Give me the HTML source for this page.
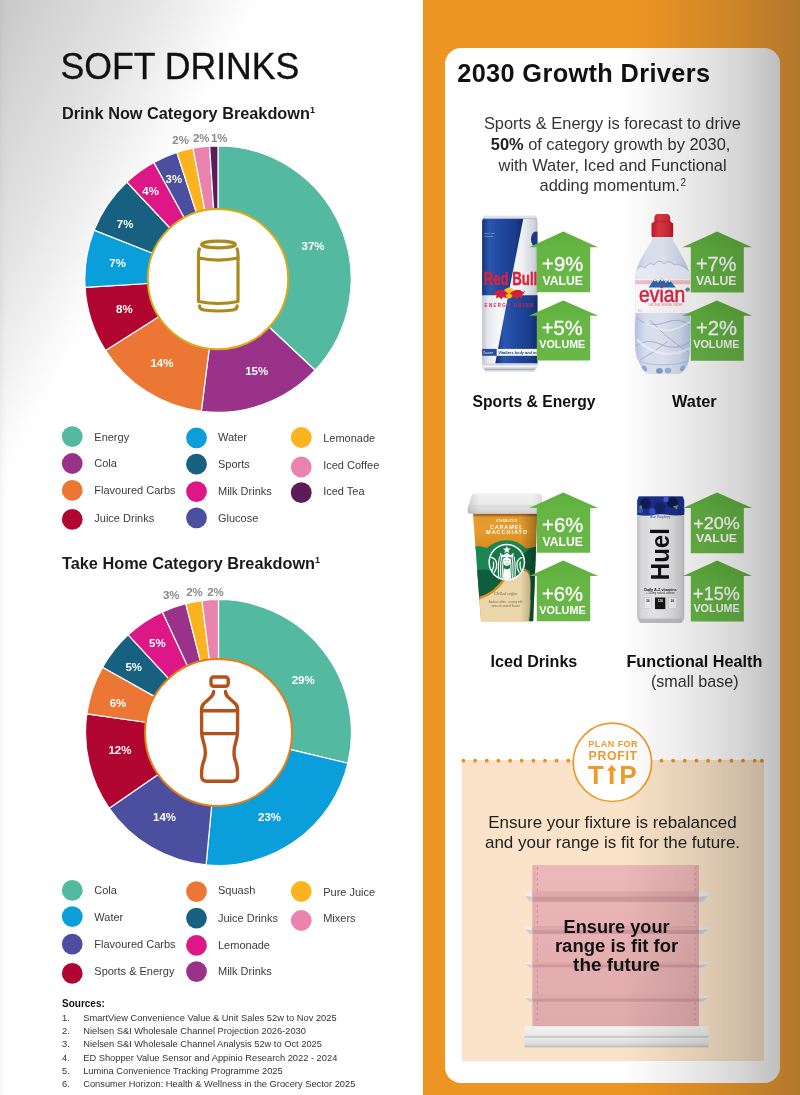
<!DOCTYPE html>
<html lang="en"><head><meta charset="utf-8"><title>Soft Drinks</title>
<style>
html,body{margin:0;padding:0}
body{width:800px;height:1095px;position:relative;overflow:hidden;background:#fff;font-family:"Liberation Sans", sans-serif}
#bgL{position:absolute;left:0;top:0;width:423px;height:1095px;background:linear-gradient(90deg,rgba(0,0,0,.035) 0,rgba(0,0,0,.012) 4px,rgba(0,0,0,0) 8px),linear-gradient(118deg,#c8c8c8 0,#d7d7d7 7.5%,#e5e5e5 15%,#f2f2f2 20.5%,#fdfdfd 25%,#fff 27%)}
#bgR{position:absolute;left:422.5px;top:0;width:377.5px;height:1095px;background:linear-gradient(90deg,#EC9523 0,#EC9523 55%,#D88A27 75%,#B3782C 100%)}
#card{position:absolute;left:445px;top:47.8px;width:335px;height:1035.2px;border-radius:16px;background:#fff}
#tipbox{position:absolute;left:461.5px;top:759.5px;width:302.6px;height:301.6px;background:#FAE3C8}
#shade{position:absolute;left:445px;top:47.8px;width:335px;height:1035.2px;border-radius:16px;background:linear-gradient(90deg,rgba(0,0,0,0) 0,rgba(0,0,0,0) 53%,rgba(0,0,0,.05) 65%,rgba(0,0,0,.1) 77%,rgba(0,0,0,.17) 89%,rgba(0,0,0,.25) 100%)}
</style></head><body>
<div id="bgL"></div><div id="bgR"></div><div id="card"></div><div id="tipbox"></div>
<svg id="L" width="800" height="1095" viewBox="0 0 800 1095" style="position:absolute;left:0;top:0;will-change:transform;opacity:.999" font-family='"Liberation Sans", sans-serif'>
<text x="60.4" y="78.7" font-size="36.8" fill="#111" stroke="#111" stroke-width=".35" textLength="239" lengthAdjust="spacingAndGlyphs">SOFT DRINKS</text>
<text x="62" y="119.2" font-size="16.3" font-weight="700" fill="#1a1a1a">Drink Now Category Breakdown<tspan font-size="9" dy="-6">1</tspan></text>
<text x="62" y="568.5" font-size="16.3" font-weight="700" fill="#1a1a1a">Take Home Category Breakdown<tspan font-size="9" dy="-6">1</tspan></text>
<path d="M218.00 145.90A133.2 133.2 0 0 1 315.10 370.28L266.11 324.28A66 66 0 0 0 218.00 213.10Z" fill="#53B9A0" stroke="#fff" stroke-width="1.2" stroke-linejoin="round"/>
<path d="M315.10 370.28A133.2 133.2 0 0 1 201.31 411.25L209.73 344.58A66 66 0 0 0 266.11 324.28Z" fill="#9A3289" stroke="#fff" stroke-width="1.2" stroke-linejoin="round"/>
<path d="M201.31 411.25A133.2 133.2 0 0 1 105.54 350.47L162.27 314.46A66 66 0 0 0 209.73 344.58Z" fill="#EC7633" stroke="#fff" stroke-width="1.2" stroke-linejoin="round"/>
<path d="M105.54 350.47A133.2 133.2 0 0 1 85.06 287.46L152.13 283.24A66 66 0 0 0 162.27 314.46Z" fill="#B00631" stroke="#fff" stroke-width="1.2" stroke-linejoin="round"/>
<path d="M85.06 287.46A133.2 133.2 0 0 1 94.15 230.07L156.63 254.80A66 66 0 0 0 152.13 283.24Z" fill="#0A9FDB" stroke="#fff" stroke-width="1.2" stroke-linejoin="round"/>
<path d="M94.15 230.07A133.2 133.2 0 0 1 126.82 182.00L172.82 230.99A66 66 0 0 0 156.63 254.80Z" fill="#17607F" stroke="#fff" stroke-width="1.2" stroke-linejoin="round"/>
<path d="M126.82 182.00A133.2 133.2 0 0 1 153.83 162.38L186.20 221.26A66 66 0 0 0 172.82 230.99Z" fill="#DD1785" stroke="#fff" stroke-width="1.2" stroke-linejoin="round"/>
<path d="M153.83 162.38A133.2 133.2 0 0 1 176.84 152.42L197.60 216.33A66 66 0 0 0 186.20 221.26Z" fill="#4C4E9F" stroke="#fff" stroke-width="1.2" stroke-linejoin="round"/>
<path d="M176.84 152.42A133.2 133.2 0 0 1 193.04 148.26L205.63 214.27A66 66 0 0 0 197.60 216.33Z" fill="#FBB31F" stroke="#fff" stroke-width="1.2" stroke-linejoin="round"/>
<path d="M193.04 148.26A133.2 133.2 0 0 1 209.64 146.16L213.86 213.23A66 66 0 0 0 205.63 214.27Z" fill="#EA84AE" stroke="#fff" stroke-width="1.2" stroke-linejoin="round"/>
<path d="M209.64 146.16A133.2 133.2 0 0 1 218.00 145.90L218.00 213.10A66 66 0 0 0 213.86 213.23Z" fill="#5D1B5A" stroke="#fff" stroke-width="1.2" stroke-linejoin="round"/>
<circle cx="218" cy="279.1" r="70.2" fill="#fff" stroke="#D9A91A" stroke-width="2"/>
<path d="M218.50 599.50A133 133 0 0 1 347.90 763.25L286.60 748.68A70 70 0 0 0 218.50 662.50Z" fill="#53B9A0" stroke="#fff" stroke-width="1.2" stroke-linejoin="round"/>
<path d="M347.90 763.25A133 133 0 0 1 206.11 864.92L211.98 802.20A70 70 0 0 0 286.60 748.68Z" fill="#0A9FDB" stroke="#fff" stroke-width="1.2" stroke-linejoin="round"/>
<path d="M206.11 864.92A133 133 0 0 1 109.22 808.31L160.99 772.40A70 70 0 0 0 211.98 802.20Z" fill="#4C4E9F" stroke="#fff" stroke-width="1.2" stroke-linejoin="round"/>
<path d="M109.22 808.31A133 133 0 0 1 86.80 713.94L149.18 722.73A70 70 0 0 0 160.99 772.40Z" fill="#B00631" stroke="#fff" stroke-width="1.2" stroke-linejoin="round"/>
<path d="M86.80 713.94A133 133 0 0 1 102.64 667.20L157.52 698.13A70 70 0 0 0 149.18 722.73Z" fill="#EC7633" stroke="#fff" stroke-width="1.2" stroke-linejoin="round"/>
<path d="M102.64 667.20A133 133 0 0 1 128.18 634.87L170.96 681.12A70 70 0 0 0 157.52 698.13Z" fill="#17607F" stroke="#fff" stroke-width="1.2" stroke-linejoin="round"/>
<path d="M128.18 634.87A133 133 0 0 1 162.40 611.91L188.97 669.03A70 70 0 0 0 170.96 681.12Z" fill="#DD1785" stroke="#fff" stroke-width="1.2" stroke-linejoin="round"/>
<path d="M162.40 611.91A133 133 0 0 1 185.74 603.60L201.26 664.66A70 70 0 0 0 188.97 669.03Z" fill="#9A3289" stroke="#fff" stroke-width="1.2" stroke-linejoin="round"/>
<path d="M185.74 603.60A133 133 0 0 1 201.99 600.53L209.81 663.04A70 70 0 0 0 201.26 664.66Z" fill="#FBB31F" stroke="#fff" stroke-width="1.2" stroke-linejoin="round"/>
<path d="M201.99 600.53A133 133 0 0 1 218.50 599.50L218.50 662.50A70 70 0 0 0 209.81 663.04Z" fill="#EA84AE" stroke="#fff" stroke-width="1.2" stroke-linejoin="round"/>
<circle cx="218.5" cy="732.5" r="73.5" fill="#fff" stroke="#E67D17" stroke-width="2"/>
<g fill="none" stroke="#A98A1E" stroke-width="3.2" stroke-linecap="round" stroke-linejoin="round">
<ellipse cx="218.5" cy="244.5" rx="16.8" ry="3.3"/>
<path d="M199.4 249 Q198.5 251 198.5 255 L198.5 301.5 Q218.5 305.5 238 301.5 L238 255 Q238 251 237.2 249"/>
<path d="M198.5 258 Q218.5 262.2 238 258"/>
<path d="M199.6 305.8 Q199.6 309.5 204 310 Q218.5 312 233 310 Q237.2 309.5 237.2 305.8"/>
</g>
<g fill="none" stroke="#B5511A" stroke-width="3.4" stroke-linecap="round" stroke-linejoin="round">
<rect x="211" y="677" width="17.2" height="9.2" rx="2.6"/>
<path d="M213.6 691.5 Q213.8 695 210 698 L204.5 703 Q201.6 705.5 201.6 709 L201.6 730 Q201.6 737 203.5 742 Q206.5 751 204.5 759 Q201.6 766 201.6 772 L201.6 776 Q201.6 781.2 207 781.2 L232 781.2 Q237.6 781.2 237.6 776 L237.6 772 Q237.6 766 234.8 759 Q232.8 751 235.8 742 Q237.6 737 237.6 730 L237.6 709 Q237.6 705.5 234.6 703 L229 698 Q225.4 695 225.6 691.5"/>
<path d="M201.6 710.8 L237.6 710.8 M202 733.6 L237.2 733.6"/>
</g>
<text x="313" y="249.7" text-anchor="middle" font-size="11.5" font-weight="700" fill="#fff">37%</text>
<text x="256.7" y="374.6" text-anchor="middle" font-size="11.5" font-weight="700" fill="#fff">15%</text>
<text x="161.9" y="367.1" text-anchor="middle" font-size="11.5" font-weight="700" fill="#fff">14%</text>
<text x="124.4" y="312.7" text-anchor="middle" font-size="11.5" font-weight="700" fill="#fff">8%</text>
<text x="117.6" y="266.6" text-anchor="middle" font-size="11.5" font-weight="700" fill="#fff">7%</text>
<text x="125.1" y="228.0" text-anchor="middle" font-size="11.5" font-weight="700" fill="#fff">7%</text>
<text x="150.6" y="195.3" text-anchor="middle" font-size="11.5" font-weight="700" fill="#fff">4%</text>
<text x="173.9" y="183.0" text-anchor="middle" font-size="11.5" font-weight="700" fill="#fff">3%</text>
<text x="303.2" y="684.1" text-anchor="middle" font-size="11.5" font-weight="700" fill="#fff">29%</text>
<text x="269.5" y="821.0" text-anchor="middle" font-size="11.5" font-weight="700" fill="#fff">23%</text>
<text x="164.5" y="821.0" text-anchor="middle" font-size="11.5" font-weight="700" fill="#fff">14%</text>
<text x="119.9" y="753.5" text-anchor="middle" font-size="11.5" font-weight="700" fill="#fff">12%</text>
<text x="118" y="707.3" text-anchor="middle" font-size="11.5" font-weight="700" fill="#fff">6%</text>
<text x="133.75" y="671.0" text-anchor="middle" font-size="11.5" font-weight="700" fill="#fff">5%</text>
<text x="157.4" y="646.6" text-anchor="middle" font-size="11.5" font-weight="700" fill="#fff">5%</text>
<text x="180.6" y="144.0" text-anchor="middle" font-size="11.5" font-weight="700" fill="#8a8a8a">2%</text>
<text x="201.2" y="141.7" text-anchor="middle" font-size="11.5" font-weight="700" fill="#8a8a8a">2%</text>
<text x="219.2" y="141.7" text-anchor="middle" font-size="11.5" font-weight="700" fill="#8a8a8a">1%</text>
<text x="171.25" y="598.6" text-anchor="middle" font-size="11.5" font-weight="700" fill="#8a8a8a">3%</text>
<text x="194.5" y="596.0" text-anchor="middle" font-size="11.5" font-weight="700" fill="#8a8a8a">2%</text>
<text x="215.5" y="596.0" text-anchor="middle" font-size="11.5" font-weight="700" fill="#8a8a8a">2%</text>
<circle cx="72.25" cy="436.6" r="10.4" fill="#53B9A0"/>
<text x="94.3" y="440.7" font-size="11" fill="#3b3b3b">Energy</text>
<circle cx="72.25" cy="463.5" r="10.4" fill="#9A3289"/>
<text x="94.3" y="467" font-size="11" fill="#3b3b3b">Cola</text>
<circle cx="72.25" cy="490.4" r="10.4" fill="#EC7633"/>
<text x="94.3" y="494.4" font-size="11" fill="#3b3b3b">Flavoured Carbs</text>
<circle cx="72.25" cy="519.4" r="10.4" fill="#B00631"/>
<text x="94.3" y="521.7" font-size="11" fill="#3b3b3b">Juice Drinks</text>
<circle cx="196.5" cy="437.9" r="10.4" fill="#0A9FDB"/>
<text x="218" y="440.7" font-size="11" fill="#3b3b3b">Water</text>
<circle cx="196.5" cy="464.2" r="10.4" fill="#17607F"/>
<text x="218" y="467.8" font-size="11" fill="#3b3b3b">Sports</text>
<circle cx="196.5" cy="491.6" r="10.4" fill="#DD1785"/>
<text x="218" y="494.6" font-size="11" fill="#3b3b3b">Milk Drinks</text>
<circle cx="196.5" cy="517.9" r="10.4" fill="#4C4E9F"/>
<text x="218" y="521.7" font-size="11" fill="#3b3b3b">Glucose</text>
<circle cx="301.25" cy="437.5" r="10.4" fill="#FBB31F"/>
<text x="323.2" y="442" font-size="11" fill="#3b3b3b">Lemonade</text>
<circle cx="301.25" cy="467" r="10.4" fill="#EA84AE"/>
<text x="323.2" y="468.6" font-size="11" fill="#3b3b3b">Iced Coffee</text>
<circle cx="301.25" cy="492.7" r="10.4" fill="#5D1B5A"/>
<text x="323.2" y="495.2" font-size="11" fill="#3b3b3b">Iced Tea</text>
<circle cx="72.25" cy="890.4" r="10.4" fill="#53B9A0"/>
<text x="94.3" y="894" font-size="11" fill="#3b3b3b">Cola</text>
<circle cx="72.25" cy="916.6" r="10.4" fill="#0A9FDB"/>
<text x="94.3" y="920.7" font-size="11" fill="#3b3b3b">Water</text>
<circle cx="72.25" cy="944.1" r="10.4" fill="#4C4E9F"/>
<text x="94.3" y="948" font-size="11" fill="#3b3b3b">Flavoured Carbs</text>
<circle cx="72.25" cy="973.4" r="10.4" fill="#B00631"/>
<text x="94.3" y="975" font-size="11" fill="#3b3b3b">Sports &amp; Energy</text>
<circle cx="196.5" cy="891.6" r="10.4" fill="#EC7633"/>
<text x="218" y="894" font-size="11" fill="#3b3b3b">Squash</text>
<circle cx="196.5" cy="918.1" r="10.4" fill="#17607F"/>
<text x="218" y="921.5" font-size="11" fill="#3b3b3b">Juice Drinks</text>
<circle cx="196.5" cy="945.4" r="10.4" fill="#DD1785"/>
<text x="218" y="948.8" font-size="11" fill="#3b3b3b">Lemonade</text>
<circle cx="196.5" cy="971.6" r="10.4" fill="#9A3289"/>
<text x="218" y="975" font-size="11" fill="#3b3b3b">Milk Drinks</text>
<circle cx="301.25" cy="891.5" r="10.4" fill="#FBB31F"/>
<text x="323.2" y="895.5" font-size="11" fill="#3b3b3b">Pure Juice</text>
<circle cx="301.25" cy="920.5" r="10.4" fill="#EA84AE"/>
<text x="323.2" y="922.3" font-size="11" fill="#3b3b3b">Mixers</text>
<text x="62" y="1007" font-size="10" font-weight="700" fill="#111">Sources:</text>
<text x="62" y="1020.8" font-size="9.3" fill="#333">1.</text><text x="83.2" y="1020.8" font-size="9.3" fill="#333">SmartView Convenience Value &amp; Unit Sales 52w to Nov 2025</text>
<text x="62" y="1034.1" font-size="9.3" fill="#333">2.</text><text x="83.2" y="1034.1" font-size="9.3" fill="#333">Nielsen S&amp;I Wholesale Channel Projection 2026-2030</text>
<text x="62" y="1047.4" font-size="9.3" fill="#333">3.</text><text x="83.2" y="1047.4" font-size="9.3" fill="#333">Nielsen S&amp;I Wholesale Channel Analysis 52w to Oct 2025</text>
<text x="62" y="1060.6" font-size="9.3" fill="#333">4.</text><text x="83.2" y="1060.6" font-size="9.3" fill="#333">ED Shopper Value Sensor and Appinio Research 2022 - 2024</text>
<text x="62" y="1073.9" font-size="9.3" fill="#333">5.</text><text x="83.2" y="1073.9" font-size="9.3" fill="#333">Lumina Convenience Tracking Programme 2025</text>
<text x="62" y="1087.2" font-size="9.3" fill="#333">6.</text><text x="83.2" y="1087.2" font-size="9.3" fill="#333">Consumer Horizon: Health &amp; Wellness in the Grocery Sector 2025</text>

<defs>
<linearGradient id="rbS" x1="0" y1="0" x2="1" y2="0"><stop offset="0" stop-color="#b9bdc6"/><stop offset="0.12" stop-color="#e6e8ec"/><stop offset="0.3" stop-color="#f6f7f9"/><stop offset="0.7" stop-color="#f1f2f5"/><stop offset="0.92" stop-color="#cfd2d9"/><stop offset="1" stop-color="#a9aeb8"/></linearGradient>
<linearGradient id="rbB" x1="0" y1="0" x2="1" y2="0"><stop offset="0" stop-color="#142E6E"/><stop offset="0.2" stop-color="#2A58AE"/><stop offset="0.45" stop-color="#2049A0"/><stop offset="0.8" stop-color="#1A3E8C"/><stop offset="1" stop-color="#10296A"/></linearGradient>
<clipPath id="rbC"><path d="M485.2 215.8H534.4Q536 215.8 536.3 217.2L537.5 221.5V365.4Q537.2 368.2 535 369.4L534.4 371.6H485.2L484.6 369.4Q482.4 368.2 482.1 365.4V221.5L483.3 217.2Q483.6 215.8 485.2 215.8Z"/></clipPath>
<linearGradient id="evB" x1="0" y1="0" x2="1" y2="0"><stop offset="0" stop-color="#b4c3e3"/><stop offset="0.2" stop-color="#dce4f4"/><stop offset="0.5" stop-color="#e6ebf7"/><stop offset="0.8" stop-color="#d3dcf0"/><stop offset="1" stop-color="#b0bfe0"/></linearGradient>
<linearGradient id="evC" x1="0" y1="0" x2="1" y2="0"><stop offset="0" stop-color="#C21D2C"/><stop offset="0.35" stop-color="#DE3A45"/><stop offset="0.75" stop-color="#D02A37"/><stop offset="1" stop-color="#B41A29"/></linearGradient>
<clipPath id="evP"><path d="M653 237H672.4L673.7 241.8Q679.6 250.6 685.4 262.6Q689.9 271.5 690.1 279V313Q689.7 316 690.2 319Q691 330 689.9 343Q690 357 688.4 362Q686 370 680 374H647.5Q641.6 370 639 362Q635 357 635.1 343Q634.4 330 635.2 319Q635.6 316 635.2 313V279Q635.4 271.5 639.2 262.6Q645 250.6 651.3 241.8Z"/></clipPath>
<linearGradient id="sbO" x1="0" y1="0" x2="0" y2="1"><stop offset="0" stop-color="#8E5012"/><stop offset="0.05" stop-color="#A9611A"/><stop offset="0.12" stop-color="#E29A2E"/><stop offset="0.5" stop-color="#E59C2C"/><stop offset="1" stop-color="#D78A1E"/></linearGradient>
<linearGradient id="sbSh" x1="0" y1="0" x2="1" y2="0"><stop offset="0" stop-color="#fff" stop-opacity=".18"/><stop offset="0.1" stop-color="#fff" stop-opacity="0"/><stop offset="0.72" stop-color="#000" stop-opacity="0"/><stop offset="0.9" stop-color="#000" stop-opacity=".22"/><stop offset="1" stop-color="#000" stop-opacity=".42"/></linearGradient>
<linearGradient id="sbL" x1="0" y1="0" x2="0" y2="1"><stop offset="0" stop-color="#f1f1f2"/><stop offset="0.5" stop-color="#ececed"/><stop offset="0.72" stop-color="#dededf"/><stop offset="1" stop-color="#cfcfd1"/></linearGradient>
<linearGradient id="sbLx" x1="0" y1="0" x2="1" y2="0"><stop offset="0" stop-color="#000" stop-opacity=".12"/><stop offset="0.15" stop-color="#000" stop-opacity="0"/><stop offset="0.85" stop-color="#000" stop-opacity="0"/><stop offset="1" stop-color="#000" stop-opacity=".1"/></linearGradient>
<clipPath id="sbC"><path d="M473 513.5H537.2L533.2 621.2H481Z"/></clipPath>
<clipPath id="sbLogo"><circle cx="506.8" cy="562.2" r="16.9"/></clipPath>
<linearGradient id="huB" x1="0" y1="0" x2="1" y2="0"><stop offset="0" stop-color="#b4b4b7"/><stop offset="0.1" stop-color="#dcdcde"/><stop offset="0.35" stop-color="#ececee"/><stop offset="0.7" stop-color="#e2e2e4"/><stop offset="0.9" stop-color="#cfcfd2"/><stop offset="1" stop-color="#b2b2b6"/></linearGradient>
<clipPath id="huC"><path d="M640.2 495.9H681.4Q683 496 683.4 498L684.2 500.5V617Q684.1 619.5 682.6 620.6L681.8 622.9H639.8L639 620.6Q637.3 619.5 637.2 617V500.5L638 498Q638.4 496 640.2 495.9Z"/></clipPath>
</defs>

<!-- Red Bull can -->
<g clip-path="url(#rbC)">
<rect x="481" y="215" width="58" height="158" fill="url(#rbS)"/>
<path d="M481 218.4H523.3L508.2 295.2H481Z" fill="url(#rbB)"/>
<path d="M508.2 295.2H539V363.5H495.2Z" fill="url(#rbB)"/>
<rect x="481" y="215" width="58" height="3.6" fill="#dfe2e8"/><rect x="481" y="218.2" width="58" height="0.9" fill="#8e95a3" opacity=".55"/>
<ellipse cx="536" cy="239.2" rx="5" ry="7.7" fill="#1B3A86"/>
<rect x="481" y="348.9" width="58" height="6.9" fill="#f3f4f7"/><rect x="481" y="348.9" width="15.7" height="6.9" fill="#2A4C9C"/>
<text x="483" y="353.6" font-size="3.1" fill="#dfe6f6" font-style="italic">Taurine</text>
<text x="498.2" y="353.9" font-size="3.9" fill="#1D3F8F" font-style="italic" font-weight="700">Vitalizes body and mind.</text>
<text x="484.2" y="233.6" font-size="2.5" fill="#c9d3ea">Zero After</text><text x="484.2" y="236.6" font-size="2.5" fill="#c9d3ea">Calories</text>
<rect x="481" y="363.5" width="58" height="9" fill="#d3d6dc"/><rect x="481" y="365.6" width="58" height="1.6" fill="#f7f7f9"/><rect x="481" y="368.8" width="58" height="1" fill="#a2a7b1"/>
<circle cx="509" cy="293" r="5.4" fill="#F8C01E"/>
<path d="M492.8 289.6L494.6 292.2Q498.6 288.8 503.2 290.2Q506.4 291.2 508.4 294L505.6 295L507 298.6L503.2 297L501.2 299.4L499.2 297L495.8 298.6L496.6 295.4Q494 294.2 493.6 292Z" fill="#D41F3A"/>
<path d="M525.2 289.6L523.4 292.2Q519.4 288.8 514.8 290.2Q511.6 291.2 509.6 294L512.4 295L511 298.6L514.8 297L516.8 299.4L518.8 297L522.2 298.6L521.4 295.4Q524 294.2 524.4 292Z" fill="#D41F3A"/>
<text x="483.7" y="284.5" font-size="18.4" font-weight="700" fill="#D9233F" stroke="#D9233F" stroke-width=".5" textLength="53.6" lengthAdjust="spacingAndGlyphs">Red Bull</text>
<text x="484.6" y="307.4" font-size="4.5" font-weight="700" fill="#D9233F" textLength="48.8" lengthAdjust="spacing">ENERGY DRINK</text>
</g>

<!-- Evian bottle -->
<path d="M654.4 221.6Q653.6 214.1 657.4 214H667Q671 214.1 670.3 221.6L673.2 223.4V235.8Q673.2 237.4 671.2 237.4H653.5Q651.5 237.4 651.5 235.8V223.4Z" fill="url(#evC)"/>
<path d="M654.4 221.8H670.4" stroke="#A31626" stroke-width=".7" opacity=".7"/>
<g clip-path="url(#evP)">
<rect x="634" y="236" width="58" height="140" fill="url(#evB)"/>
<path d="M635 272Q640 264 645 268Q649 261 654 265Q659 258 664 264Q669 259 674 265Q680 262 691 273V280H635Z" fill="#eef2fb" opacity=".9"/>
<path d="M636 271Q640 264 645 268Q649 261 654 265Q659 258 664 264Q669 259 674 265Q680 262 690 272" fill="none" stroke="#9fb0d6" stroke-width=".9" opacity=".8"/>
<rect x="634" y="279.4" width="58" height="33.6" fill="#fcfcfe"/>
<rect x="634" y="280.2" width="58" height="4" fill="#F5BFC8"/>
<path d="M648.6 287.4L654.8 278.6L658 282.8L662 277.8L665.8 283L669.2 279.6L675.8 287.4Z" fill="#2C6BB4"/>
<path d="M654.8 278.6L656.2 280.6L654.9 281.6L653.8 280.4ZM662 277.8L663.6 280.2L662 281.4L660.6 279.8ZM669.2 279.6L670.6 281.4L669.2 282.2L668 281Z" fill="#fff"/>
<text x="639.1" y="301.7" font-size="21.4" fill="#DA2444" stroke="#DA2444" stroke-width=".55" textLength="46" lengthAdjust="spacingAndGlyphs">evian</text>
<text x="648.6" y="306" font-size="2.8" fill="#E58A9B" textLength="34" lengthAdjust="spacing">NATURAL MINERAL WATER</text>
<text x="637.5" y="311.8" font-size="2.6" fill="#E9A0AE">75cl</text>
<circle cx="687.6" cy="289.6" r="2.2" fill="#5E8F86"/>
<path d="M636 318Q650 328 664 323Q680 316 691 326M635 346Q648 338 660 344Q676 352 691 341M640 360Q655 352 668 341M650 320Q664 336 688 352" fill="none" stroke="#8fa3cf" stroke-width="1" opacity=".65"/>
<path d="M645 322Q660 332 672 330Q682 327 690 322" fill="none" stroke="#fff" stroke-width="2" opacity=".6"/>
<path d="M637 340Q650 352 666 354Q680 354 690 348" fill="none" stroke="#fff" stroke-width="2.4" opacity=".55"/>
<path d="M636 361Q663 369 690 361" fill="none" stroke="#a9b9dd" stroke-width="1" opacity=".7"/>
<ellipse cx="644.6" cy="368.6" rx="2.2" ry="3.2" fill="#7F9BD0" opacity=".75" transform="rotate(-30 644.6 368.6)"/><ellipse cx="659.4" cy="370.8" rx="3.4" ry="2.9" fill="#6F90CC" opacity=".85"/><ellipse cx="668" cy="370.6" rx="3.2" ry="2.8" fill="#8AA6D8" opacity=".8"/><ellipse cx="682.4" cy="368.4" rx="2" ry="3" fill="#7F9BD0" opacity=".7" transform="rotate(30 682.4 368.4)"/>
</g>

<!-- Starbucks cup -->
<g clip-path="url(#sbC)">
<rect x="470" y="513" width="70" height="110" fill="#EAD6A8"/>
<rect x="470" y="513" width="70" height="36" fill="url(#sbO)"/>
<path d="M470 546.4Q480 545.4 487 548Q496 540 507 540.2Q518 540.4 526 548.6Q533 546.6 540 548.6V600H470Z" fill="#1D8555"/>
<path d="M470 572Q486 566 500 574Q508 580 500 592L470 600Z" fill="#0F5E3B"/>
<path d="M540 546Q524 548 521.6 560Q520 574 529.8 569.8Q532 600 529 622H540Z" fill="#0F5A3A"/>
<path d="M470 598.6Q488 596.6 498 585Q508 572 521 568.4Q530 567 530.4 580Q531 600 528.6 622H470Z" fill="#D68F2A"/>
<path d="M470 601.2Q489 599 499.4 587Q509 574.6 521 571Q529.6 569.4 530.2 582Q530.6 601 528.4 622H470Z" fill="#EAD6A8"/>
<rect x="470" y="513" width="70" height="110" fill="url(#sbSh)"/>
</g>
<text x="506.6" y="521.8" font-size="2.7" fill="#fff" text-anchor="middle" font-weight="700" letter-spacing=".5" opacity=".9">STARBUCKS</text>
<text x="489.9" y="528.9" font-size="5.5" fill="#fff" font-weight="700" textLength="32.6" lengthAdjust="spacing">CARAMEL</text>
<text x="486.1" y="534.3" font-size="5.5" fill="#fff" font-weight="700" textLength="40.9" lengthAdjust="spacing">MACCHIATO</text>
<circle cx="506.8" cy="562.2" r="18.4" fill="#fff"/><circle cx="506.8" cy="562.2" r="16.9" fill="#17764A"/>
<g clip-path="url(#sbLogo)">
<g fill="none" stroke="#fff" stroke-width="1.1">
<path d="M499.6 556.5Q497.4 566 499 580M501.6 557Q499.8 566 501.2 580M503.4 558.5Q502 567 503.2 580M514 556.5Q516.2 566 514.6 580M512 557Q513.8 566 512.4 580M510.2 558.5Q511.6 567 510.4 580"/>
<path d="M491 557.4Q496 558.4 496.6 563.4Q497 568.4 494.2 572.6M493.2 561.6Q494.6 566 491.8 571.6M522.6 557.4Q517.6 558.4 517 563.4Q516.6 568.4 519.4 572.6M520.4 561.6Q519 566 521.8 571.6" stroke-width="1.3"/>
</g>
<g fill="#fff">
<path d="M506.8 545.8L507.9 548.6L510.8 548.6L508.5 550.4L509.3 553.2L506.8 551.6L504.3 553.2L505.1 550.4L502.8 548.6L505.7 548.6Z"/>
<path d="M499.8 552.4L503 555.2L506.8 552.8L510.6 555.2L513.8 552.4L513 557.2H500.6Z"/>
<ellipse cx="506.8" cy="561.6" rx="3.5" ry="4.3"/>
<path d="M503.8 568Q506.8 570.4 509.8 568L511 581H502.6Z"/>
</g>
<path d="M504.6 560.6H506M507.6 560.6H509M505.6 563.6Q506.8 564.4 508 563.6" stroke="#17764A" stroke-width=".5" fill="none"/>
</g>
<path d="M476 493.4H538Q541.6 493.4 542 496.6L542.8 505.2Q543.8 505.8 543.8 507.4V511.4Q543.8 513.8 541.4 513.8H470.2Q467.7 513.8 467.7 511.4V507.4Q467.7 505.8 468.7 505.2L471.2 496.6Q472 493.4 476 493.4Z" fill="url(#sbL)"/>
<path d="M476 493.4H538Q541.6 493.4 542 496.6L542.8 505.2Q543.8 505.8 543.8 507.4V511.4Q543.8 513.8 541.4 513.8H470.2Q467.7 513.8 467.7 511.4V507.4Q467.7 505.8 468.7 505.2L471.2 496.6Q472 493.4 476 493.4Z" fill="url(#sbLx)"/>
<path d="M468.6 505.9H543" stroke="#d2d2d4" stroke-width=".9"/>
<text x="505.4" y="595.4" font-size="4.2" fill="#7a6a45" text-anchor="middle" font-style="italic" font-family="Liberation Serif, serif">Chilled coffee</text>
<text x="505.6" y="602.6" font-size="2.7" fill="#7d6c48" text-anchor="middle">Arabica coffee · creamy milk</text>
<text x="505.6" y="607" font-size="2.7" fill="#7d6c48" text-anchor="middle">notes of caramel flavour</text>

<!-- Huel can -->
<g clip-path="url(#huC)">
<rect x="636" y="495" width="50" height="130" fill="url(#huB)"/>
<path d="M636 495H686V514.6Q676 516.2 668 514.8Q660 513.4 652 515.2Q644 516.4 636 514.4Z" fill="#1E2F8C"/>
<circle cx="645.5" cy="503.5" r="5.4" fill="#121C55"/><circle cx="659.5" cy="508" r="5.8" fill="#16246A"/><circle cx="672.5" cy="502.5" r="5.4" fill="#111A52"/><circle cx="681" cy="511" r="4.2" fill="#1C2C86"/><circle cx="652.4" cy="511.4" r="3.2" fill="#3556C4"/><circle cx="666" cy="499.4" r="2.6" fill="#3F62D6"/><circle cx="640.4" cy="510.6" r="2.6" fill="#3556C4"/>
<path d="M638.4 507L641.6 505L642 509.6ZM672.6 506.6L678 505L677 509.4Z" fill="#5E9E4A"/>
<rect x="636" y="495" width="50" height="1.6" fill="#9aa0b8"/>
<text x="660.3" y="517.9" font-size="2.9" fill="#2B3F9F" text-anchor="middle" font-style="italic">Blue Raspberry</text>
<rect x="636" y="618.6" width="50" height="5" fill="#bfbfc2"/>
</g>
<text transform="translate(669.3 580.2) rotate(-90)" font-size="25.6" font-weight="700" fill="#111" textLength="52" lengthAdjust="spacingAndGlyphs">Huel</text>
<text x="644.2" y="590.5" font-size="3.8" font-weight="700" fill="#222" textLength="32.5" lengthAdjust="spacing">Daily A-Z vitamins</text>
<text x="660.4" y="594.3" font-size="2.6" fill="#333" text-anchor="middle">+ 100mg natural caffeine</text>
<rect x="644.3" y="597.6" width="7.4" height="11.2" fill="#f0f0f0" stroke="#b9b9b9" stroke-width=".4"/><rect x="655" y="597.5" width="10.3" height="11.6" fill="#161616"/><rect x="668.3" y="597.6" width="8.4" height="11.2" fill="#f0f0f0" stroke="#b9b9b9" stroke-width=".4"/>
<text x="648" y="602.4" font-size="3" font-weight="700" fill="#222" text-anchor="middle">26</text><text x="660.2" y="602.4" font-size="3" font-weight="700" fill="#fff" text-anchor="middle">124</text><text x="672.5" y="602.4" font-size="3" font-weight="700" fill="#222" text-anchor="middle">26</text>

<defs><linearGradient id="gg" x1="0" y1="0" x2="0" y2="1"><stop offset="0" stop-color="#5CAE3C"/><stop offset="0.3" stop-color="#66B545"/><stop offset="1" stop-color="#69B748"/></linearGradient></defs>
<text x="457.2" y="81.6" font-size="25.3" font-weight="700" fill="#111" textLength="252.8" lengthAdjust="spacing">2030 Growth Drivers</text>
<text x="612.4" y="128.7" text-anchor="middle" font-size="16.4" fill="#333">Sports &amp; Energy is forecast to drive</text>
<text x="610.6" y="149.7" text-anchor="middle" font-size="16.4" fill="#333"><tspan font-weight="700" fill="#222">50%</tspan> of category growth by 2030,</text>
<text x="612.6" y="170.7" text-anchor="middle" font-size="16.4" fill="#333">with Water, Iced and Functional</text>
<text x="612.8" y="191.4" text-anchor="middle" font-size="16.4" fill="#333">adding momentum.<tspan font-size="10" dy="-5.6" dx=".6">2</tspan></text>
<path d="M563.3 231.6L598.1 247.3L590.2 247.3L590.2 292.2L536.8 292.2L536.8 247.3L529.0 247.3Z" fill="url(#gg)"/><text x="542.1" y="271.0" font-size="19.6" fill="#fff" stroke="#fff" stroke-width="0.3" textLength="41.0" lengthAdjust="spacingAndGlyphs">+9%</text><text x="542.4" y="284.8" font-size="12.1" font-weight="700" fill="#fff" textLength="40.5" lengthAdjust="spacingAndGlyphs">VALUE</text>
<path d="M563.3 300.4L598.1 315.7L590.2 315.7L590.2 360.6L536.8 360.6L536.8 315.7L529.0 315.7Z" fill="url(#gg)"/><text x="541.8" y="334.9" font-size="19.6" fill="#fff" stroke="#fff" stroke-width="0.3" textLength="41.0" lengthAdjust="spacingAndGlyphs">+5%</text><text x="539.3" y="348.3" font-size="11.5" font-weight="700" fill="#fff" textLength="46.0" lengthAdjust="spacingAndGlyphs">VOLUME</text>
<path d="M717.0 231.6L752.0 247.3L743.8 247.3L743.8 292.4L690.8 292.4L690.8 247.3L682.4 247.3Z" fill="url(#gg)"/><text x="696.0" y="271.0" font-size="19.6" fill="#fff" stroke="#fff" stroke-width="0.3" textLength="40.4" lengthAdjust="spacingAndGlyphs">+7%</text><text x="695.9" y="284.8" font-size="12.1" font-weight="700" fill="#fff" textLength="40.6" lengthAdjust="spacingAndGlyphs">VALUE</text>
<path d="M717.0 300.4L752.0 315.7L743.8 315.7L743.8 360.7L690.8 360.7L690.8 315.7L682.4 315.7Z" fill="url(#gg)"/><text x="695.9" y="334.9" font-size="19.6" fill="#fff" stroke="#fff" stroke-width="0.3" textLength="41.0" lengthAdjust="spacingAndGlyphs">+2%</text><text x="693.2" y="348.3" font-size="11.5" font-weight="700" fill="#fff" textLength="46.3" lengthAdjust="spacingAndGlyphs">VOLUME</text>
<path d="M563.2 492.4L598.2 508.0L590.2 508.0L590.2 552.8L536.8 552.8L536.8 508.0L529.3 508.0Z" fill="url(#gg)"/><text x="542.1" y="532.0" font-size="19.6" fill="#fff" stroke="#fff" stroke-width="0.3" textLength="41.0" lengthAdjust="spacingAndGlyphs">+6%</text><text x="542.5" y="545.7" font-size="12.0" font-weight="700" fill="#fff" textLength="40.3" lengthAdjust="spacingAndGlyphs">VALUE</text>
<path d="M563.2 560.6L598.2 576.0L590.2 576.0L590.2 621.2L536.8 621.2L536.8 576.0L529.3 576.0Z" fill="url(#gg)"/><text x="542.0" y="600.6" font-size="19.6" fill="#fff" stroke="#fff" stroke-width="0.3" textLength="41.0" lengthAdjust="spacingAndGlyphs">+6%</text><text x="539.3" y="613.8" font-size="11.3" font-weight="700" fill="#fff" textLength="46.4" lengthAdjust="spacingAndGlyphs">VOLUME</text>
<path d="M717.0 492.4L752.1 508.0L743.8 508.0L743.8 553.3L690.8 553.3L690.8 508.0L683.0 508.0Z" fill="url(#gg)"/><text x="693.2" y="529.1" font-size="16.2" fill="#fff" stroke="#fff" stroke-width="0.3" textLength="46.7" lengthAdjust="spacingAndGlyphs">+20%</text><text x="696.1" y="542.2" font-size="11.3" font-weight="700" fill="#fff" textLength="41.0" lengthAdjust="spacingAndGlyphs">VALUE</text>
<path d="M717.0 560.6L752.1 576.0L743.8 576.0L743.8 621.5L690.8 621.5L690.8 576.0L683.0 576.0Z" fill="url(#gg)"/><text x="693.1" y="600.0" font-size="17.7" fill="#fff" stroke="#fff" stroke-width="0.3" textLength="46.7" lengthAdjust="spacingAndGlyphs">+15%</text><text x="693.4" y="612.2" font-size="10.1" font-weight="700" fill="#fff" textLength="46.3" lengthAdjust="spacingAndGlyphs">VOLUME</text>
<text x="534" y="406.8" text-anchor="middle" font-size="15.7" font-weight="700" fill="#111">Sports &amp; Energy</text>
<text x="694.4" y="406.8" text-anchor="middle" font-size="16.3" font-weight="700" fill="#111">Water</text>
<text x="533.9" y="667.2" text-anchor="middle" font-size="16.1" font-weight="700" fill="#111">Iced Drinks</text>
<text x="694.4" y="667.2" text-anchor="middle" font-size="16.2" font-weight="700" fill="#111">Functional Health</text>
<text x="694.8" y="687.4" text-anchor="middle" font-size="16.1" fill="#333">(small base)</text>
<g fill="#EA901C"><circle cx="463.4" cy="760.7" r="1.85"/><circle cx="475.1" cy="760.7" r="1.85"/><circle cx="486.8" cy="760.7" r="1.85"/><circle cx="498.4" cy="760.7" r="1.85"/><circle cx="510.1" cy="760.7" r="1.85"/><circle cx="521.7" cy="760.7" r="1.85"/><circle cx="533.4" cy="760.7" r="1.85"/><circle cx="545.0" cy="760.7" r="1.85"/><circle cx="556.6" cy="760.7" r="1.85"/><circle cx="568.3" cy="760.7" r="1.85"/><circle cx="661.5" cy="760.7" r="1.85"/><circle cx="673.1" cy="760.7" r="1.85"/><circle cx="684.8" cy="760.7" r="1.85"/><circle cx="696.5" cy="760.7" r="1.85"/><circle cx="708.1" cy="760.7" r="1.85"/><circle cx="719.8" cy="760.7" r="1.85"/><circle cx="731.4" cy="760.7" r="1.85"/><circle cx="743.0" cy="760.7" r="1.85"/><circle cx="754.7" cy="760.7" r="1.85"/><circle cx="761.9" cy="760.7" r="1.85"/></g>
<circle cx="612.4" cy="762.3" r="39.2" fill="#fff" stroke="#EE9A2D" stroke-width="1.7"/>
<g fill="#EE9A2D" font-weight="700" text-anchor="middle"><text x="612.9" y="746.9" font-size="9" textLength="49.4" lengthAdjust="spacing">PLAN FOR</text><text x="612.8" y="759.8" font-size="12.3" textLength="48.4" lengthAdjust="spacing">PROFIT</text><text x="595.8" y="784.4" font-size="26.2">T</text><text x="627.9" y="784.4" font-size="26.2">P</text><clipPath id="ic"><rect x="605" y="770" width="14" height="16"/></clipPath><text x="611.7" y="784.4" font-size="26.2" clip-path="url(#ic)">I</text><path d="M611.7 764.8L616.6 770.8L606.8 770.8Z"/></g>
<text x="612.5" y="827.7" text-anchor="middle" font-size="17" fill="#222">Ensure your fixture is rebalanced</text>
<text x="612.5" y="848.1" text-anchor="middle" font-size="17" fill="#222">and your range is fit for the future.</text>
<defs><linearGradient id="pk" x1="0" y1="0" x2="0" y2="1"><stop offset="0" stop-color="#EDB8B9"/><stop offset="1" stop-color="#E0A9AC"/></linearGradient>
<linearGradient id="bs" x1="0" y1="0" x2="0" y2="1"><stop offset="0" stop-color="#f4f4f4"/><stop offset="0.45" stop-color="#e6e6e6"/><stop offset="0.5" stop-color="#bdbdbd"/><stop offset="0.58" stop-color="#e9e9e9"/><stop offset="0.85" stop-color="#dcdcdc"/><stop offset="1" stop-color="#b8b8b8"/></linearGradient></defs>
<rect x="532.5" y="865" width="166.5" height="161.5" fill="url(#pk)"/>
<g stroke="#C98C92" stroke-width="1" stroke-dasharray="2.6 2.8"><path d="M537.4 867V1024M695 867V1024"/></g>
<rect x="532.5" y="865" width="3" height="161.5" fill="#E3A7AB" opacity=".6"/><rect x="696" y="865" width="3" height="161.5" fill="#E3A7AB" opacity=".6"/>
<path d="M525.3 891.7L532.5 891.7L532.5 901.8L529.6 901.8Q527.6 898.8 525.3 895.9Z" fill="#ededed"/><path d="M525.3 895.9Q527.6 898.8 529.6 901.8L532.5 901.8L532.5 896.8Z" fill="#cfcfcf"/><path d="M707.8 891.7L699 891.7L699 901.8L702.6 901.8Q705.2 898.8 707.8 895.9Z" fill="#ededed"/><path d="M707.8 895.9Q705.2 898.8 702.6 901.8L699 901.8L699 896.8Z" fill="#cfcfcf"/><rect x="532.5" y="891.7" width="166.5" height="10.1" fill="#CF979C"/><rect x="532.5" y="891.7" width="166.5" height="5.0" fill="#DDA9AC"/><path d="M525.3 926.2L532.5 926.2L532.5 934.0L529.6 934.0Q527.6 931.7 525.3 929.5Z" fill="#ededed"/><path d="M525.3 929.5Q527.6 931.7 529.6 934.0L532.5 934.0L532.5 930.1Z" fill="#cfcfcf"/><path d="M707.8 926.2L699 926.2L699 934.0L702.6 934.0Q705.2 931.7 707.8 929.5Z" fill="#ededed"/><path d="M707.8 929.5Q705.2 931.7 702.6 934.0L699 934.0L699 930.1Z" fill="#cfcfcf"/><rect x="532.5" y="926.2" width="166.5" height="7.8" fill="#CF979C"/><rect x="532.5" y="926.2" width="166.5" height="3.9" fill="#DDA9AC"/><path d="M525.3 962.0L532.5 962.0L532.5 967.4L529.6 967.4Q527.6 965.8 525.3 964.3Z" fill="#ededed"/><path d="M525.3 964.3Q527.6 965.8 529.6 967.4L532.5 967.4L532.5 964.7Z" fill="#cfcfcf"/><path d="M707.8 962.0L699 962.0L699 967.4L702.6 967.4Q705.2 965.8 707.8 964.3Z" fill="#ededed"/><path d="M707.8 964.3Q705.2 965.8 702.6 967.4L699 967.4L699 964.7Z" fill="#cfcfcf"/><rect x="532.5" y="962.0" width="166.5" height="5.4" fill="#CF979C"/><rect x="532.5" y="962.0" width="166.5" height="2.7" fill="#DDA9AC"/><path d="M525.3 995.2L532.5 995.2L532.5 1001.8L529.6 1001.8Q527.6 999.8 525.3 998.0Z" fill="#ededed"/><path d="M525.3 998.0Q527.6 999.8 529.6 1001.8L532.5 1001.8L532.5 998.5Z" fill="#cfcfcf"/><path d="M707.8 995.2L699 995.2L699 1001.8L702.6 1001.8Q705.2 999.8 707.8 998.0Z" fill="#ededed"/><path d="M707.8 998.0Q705.2 999.8 702.6 1001.8L699 1001.8L699 998.5Z" fill="#cfcfcf"/><rect x="532.5" y="995.2" width="166.5" height="6.6" fill="#CF979C"/><rect x="532.5" y="995.2" width="166.5" height="3.3" fill="#DDA9AC"/><rect x="524.5" y="1026.3" width="184" height="21" fill="url(#bs)"/>
<text x="563.6" y="933" font-size="17.5" font-weight="700" fill="#111" textLength="106" lengthAdjust="spacingAndGlyphs">Ensure your</text>
<text x="554.9" y="952" font-size="17.5" font-weight="700" fill="#111" textLength="123.4" lengthAdjust="spacingAndGlyphs">range is fit for</text>
<text x="573.1" y="971" font-size="17.5" font-weight="700" fill="#111" textLength="87" lengthAdjust="spacingAndGlyphs">the future</text>
</svg>
<div id="shade"></div>
</body></html>
